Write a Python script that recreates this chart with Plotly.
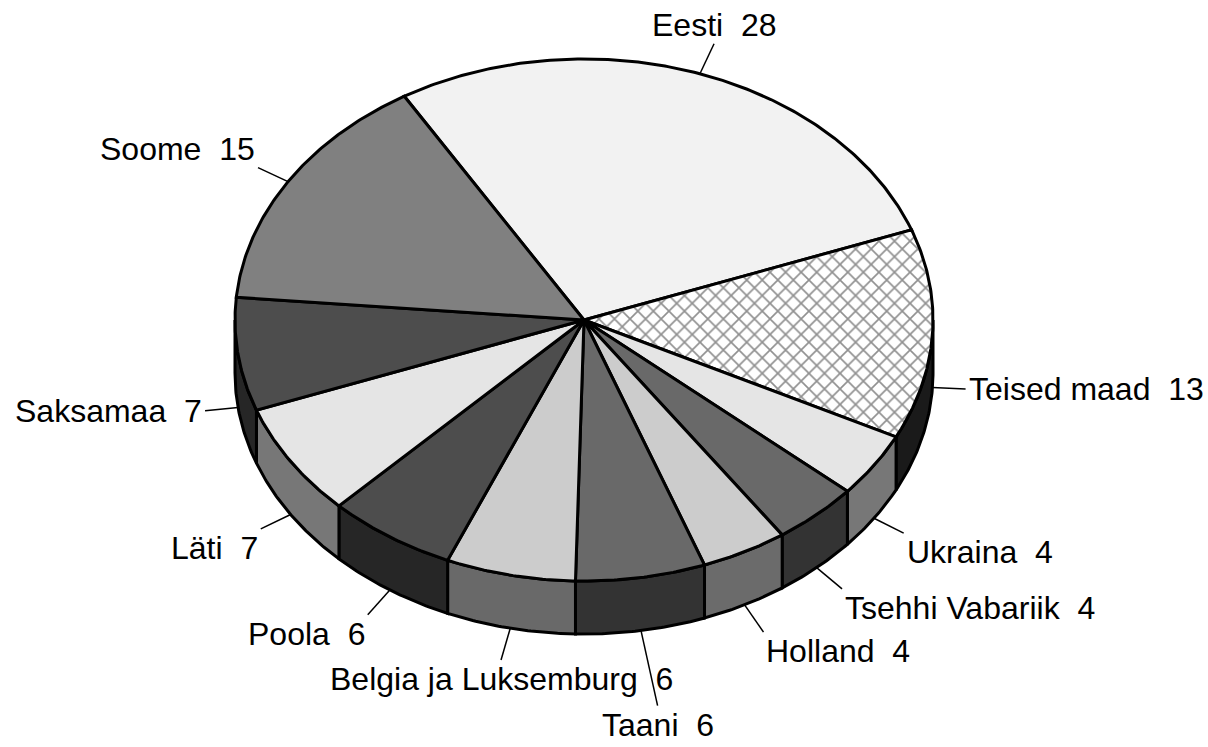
import numpy as np
import plotly.graph_objects as go

# ---------------- data ----------------
labels = ["Eesti", "Teised maad", "Ukraina", "Tsehhi Vabariik", "Holland", "Taani",
          "Belgia ja Luksemburg", "Poola", "Läti", "Saksamaa", "Soome"]
values = [28, 13, 4, 4, 4, 6, 6, 6, 7, 7, 15]

# ---------------- style ----------------
top_colors = ["#f2f2f2", "#ffffff", "#e5e5e5", "#696969", "#cccccc", "#696969",
              "#cccccc", "#4d4d4d", "#e5e5e5", "#4d4d4d", "#808080"]
side_colors = ["#777777", "#1a1a1a", "#777777", "#333333", "#6b6b6b", "#333333",
               "#696969", "#262626", "#777777", "#262626", "#404040"]
hatched = {"Teised maad"}
leader_len = {"Taani": 0.22}          # longer leader for crowded label
DEFAULT_LEADER = 0.095

START = 121.0      # start angle of first slice (deg), clockwise
K = 0.748          # vertical squash of the tilted pie
DEPTH = 0.152      # thickness of the pie
W, H = 1208, 747
PX = 349.0         # pixels per unit
CX, CY = 584.0, 320.0
FONT = dict(family="Liberation Sans, Arial, sans-serif", size=32, color="black")
EDGE = dict(color="black", width=3)


def ell(theta, drop=0.0):
    t = np.radians(theta)
    return np.cos(t), K * np.sin(t) - drop


def arc(a, b, drop=0.0):
    n = max(int(abs(a - b) * 2) + 2, 3)
    th = np.linspace(a, b, n)
    return ell(th, drop)


total = float(sum(values))
cum = np.concatenate([[0.0], np.cumsum(values)]) / total
starts = START - 360.0 * cum[:-1]
ends = START - 360.0 * cum[1:]

fig = go.Figure()

# side walls (only for the front half of the pie)
for i, (s, e) in enumerate(zip(starts, ends)):
    hi, lo = min(s, 0.0), max(e, -180.0)
    if hi <= lo:
        continue
    tx, ty = arc(hi, lo)
    bx, by = arc(lo, hi, DEPTH)
    xs = np.concatenate([tx, bx, tx[:1]])
    ys = np.concatenate([ty, by, ty[:1]])
    fig.add_trace(go.Scatter(x=xs, y=ys, mode="lines", fill="toself",
                             fillcolor=side_colors[i], line=EDGE,
                             hoverinfo="skip", showlegend=False))

# top faces
for i, (s, e) in enumerate(zip(starts, ends)):
    ax, ay = arc(s, e)
    xs = np.concatenate([[0.0], ax, [0.0]])
    ys = np.concatenate([[0.0], ay, [0.0]])
    kw = {}
    if labels[i] in hatched:
        kw["fillpattern"] = dict(shape="x", fgcolor="#222222", bgcolor="white",
                                 size=11, solidity=0.28)
    fig.add_trace(go.Scatter(x=xs, y=ys, mode="lines", fill="toself",
                             fillcolor=top_colors[i], line=EDGE,
                             hoverinfo="text", text=f"{labels[i]}: {values[i]}",
                             showlegend=False, **kw))

# leader lines and labels
annotations = []
for i, (s, e) in enumerate(zip(starts, ends)):
    mid = (s + e) / 2.0
    t = np.radians(mid)
    drop = DEPTH if np.sin(t) < 0 else 0.0
    x0, y0 = ell(mid, drop)
    dx, dy = np.cos(t), K * np.sin(t)
    n = np.hypot(dx, dy)
    dx, dy = dx / n, dy / n
    L = leader_len.get(labels[i], DEFAULT_LEADER)
    x1, y1 = x0 + dx * L, y0 + dy * L
    fig.add_trace(go.Scatter(x=[x0, x1], y=[y0, y1], mode="lines",
                             line=dict(color="black", width=1.5),
                             hoverinfo="skip", showlegend=False))
    if abs(dx) < 0.5:
        xa = "center"
        ya = "bottom" if dy > 0 else "top"
        xs_ = 0
    else:
        xa = "left" if dx > 0 else "right"
        xs_ = 2 if dx > 0 else -2
        if abs(dy) < 0.3:
            ya = "middle"
        else:
            ya = "bottom" if dy > 0 else "top"
    annotations.append(dict(x=x1, y=y1, xref="x", yref="y",
                            text=f"{labels[i]}\u00a0\u00a0{values[i]}",
                            showarrow=False, xanchor=xa, yanchor=ya,
                            xshift=xs_, borderpad=0, font=FONT))

x0r = -CX / PX
y1r = CY / PX
fig.update_layout(
    width=W, height=H,
    margin=dict(l=0, r=0, t=0, b=0),
    paper_bgcolor="white", plot_bgcolor="white",
    xaxis=dict(range=[x0r, x0r + W / PX], visible=False, fixedrange=True),
    yaxis=dict(range=[y1r - H / PX, y1r], visible=False, fixedrange=True),
    annotations=annotations,
    showlegend=False,
)

fig.write_html(
    "out.html",
    config={"displayModeBar": False},
    post_script="document.body.style.margin='0';document.body.style.overflow='hidden';",
)
